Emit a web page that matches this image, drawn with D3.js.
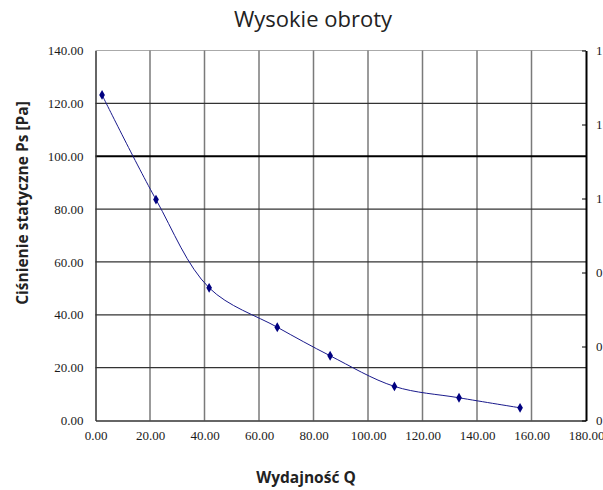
<!DOCTYPE html>
<html>
<head>
<meta charset="utf-8">
<script src="https://cdn.jsdelivr.net/npm/d3@7"></script>
<style>
  body { margin: 0; background: #fff; }
  svg { display: block; }
</style>
</head>
<body>
<svg width="603" height="490"></svg>
<script>
// flow (Q) and static pressure (Ps)
let flowQ = [2.4, 22.2, 41.7, 66.7, 86.1, 109.7, 133.4, 155.8]
let pressurePs = [123.2, 83.6, 50.2, 35.3, 24.5, 12.9, 8.6, 4.8]
let xTicks = [0, 20, 40, 60, 80, 100, 120, 140, 160, 180]
let yTicks = [0, 20, 40, 60, 80, 100, 120, 140]
let rightTickLabels = ['0', '0', '0', '1', '1', '1']

let svg = d3.select('svg')
let plotLeft = 95.5, plotRight = 586, plotTop = 50.5, plotBottom = 420.5

let x = d3.scaleLinear().domain([0, 180]).range([plotLeft, plotRight])
let y = d3.scaleLinear().domain([0, 140]).range([plotBottom, plotTop])
let yRight = d3.scaleLinear().domain([0, rightTickLabels.length - 1]).range([plotBottom, plotTop])

// title
svg.append('text')
  .attr('x', 313).attr('y', 27)
  .attr('text-anchor', 'middle')
  .style('font-family', '"Open Sans", sans-serif')
  .style('font-size', '22px')
  .style('fill', '#222')
  .text('Wysokie obroty')

// top border
svg.append('line')
  .attr('x1', plotLeft).attr('x2', plotRight)
  .attr('y1', plotTop).attr('y2', plotTop)
  .attr('stroke', '#aaa').attr('stroke-width', 1)

// vertical grid
svg.selectAll('.vgrid')
  .data(xTicks.slice(1, -1))
  .join('line')
  .attr('class', 'vgrid')
  .attr('x1', d => x(d)).attr('x2', d => x(d))
  .attr('y1', plotTop).attr('y2', plotBottom)
  .attr('stroke', '#7a7a7a').attr('stroke-width', 1.5)

// horizontal grid
svg.selectAll('.hgrid')
  .data(yTicks.slice(1, -1))
  .join('line')
  .attr('class', 'hgrid')
  .attr('x1', plotLeft).attr('x2', plotRight)
  .attr('y1', d => y(d)).attr('y2', d => y(d))
  .attr('stroke', d => d === 100 ? '#000' : '#333')
  .attr('stroke-width', d => d === 100 ? 2 : 1.2)

// axes
let xAxis = d3.axisBottom(x).tickValues(xTicks).tickSize(0).tickPadding(10)
  .tickFormat(d3.format('.2f'))
svg.append('g')
  .attr('transform', `translate(0,${plotBottom})`)
  .call(xAxis)
  .call(g => g.select('.domain').attr('stroke', '#333').attr('stroke-width', 1.5))

let yAxis = d3.axisLeft(y).tickValues(yTicks).tickSize(0).tickPadding(12)
  .tickFormat(d3.format('.2f'))
svg.append('g')
  .attr('transform', `translate(${plotLeft},0)`)
  .call(yAxis)
  .call(g => g.select('.domain').attr('stroke', '#333').attr('stroke-width', 1.5))

let yAxisRight = d3.axisRight(yRight)
  .tickValues(d3.range(rightTickLabels.length))
  .tickSizeInner(-4).tickSizeOuter(0).tickPadding(10)
  .tickFormat(i => rightTickLabels[i])
svg.append('g')
  .attr('transform', `translate(${plotRight},0)`)
  .call(yAxisRight)
  .call(g => g.select('.domain').attr('stroke', '#000').attr('stroke-width', 2))
  .call(g => g.selectAll('.tick line').attr('stroke', '#000'))

svg.selectAll('.tick text')
  .attr('font-family', null)
  .attr('font-size', null)
  .style('font-family', '"Liberation Serif", "Times New Roman", serif')
  .style('font-size', '13px')
  .style('fill', '#1a1a1a')

// axis titles
svg.append('text')
  .attr('transform', 'translate(28,203) rotate(-90)')
  .attr('text-anchor', 'middle')
  .style('font-family', '"Open Sans", sans-serif')
  .style('font-size', '15.5px')
  .style('font-weight', 'bold')
  .style('fill', '#222')
  .text('Ciśnienie statyczne Ps [Pa]')

svg.append('text')
  .attr('x', 306).attr('y', 483)
  .attr('text-anchor', 'middle')
  .style('font-family', '"Open Sans", sans-serif')
  .style('font-size', '15.5px')
  .style('font-weight', 'bold')
  .style('fill', '#222')
  .text('Wydajność Q')

// series
let points = flowQ.map((q, i) => ({q: q, p: pressurePs[i]}))
let line = d3.line()
  .x(d => x(d.q))
  .y(d => y(d.p))
  .curve(d3.curveCatmullRom.alpha(0.5))

svg.append('path')
  .datum(points)
  .attr('d', line)
  .attr('fill', 'none')
  .attr('stroke', '#1a1a8c')
  .attr('stroke-width', 1)

svg.selectAll('.marker')
  .data(points)
  .join('path')
  .attr('class', 'marker')
  .attr('transform', d => `translate(${x(d.q)},${y(d.p)})`)
  .attr('d', d3.symbol().type(d3.symbolDiamond).size(28))
  .attr('fill', '#000080')
</script>
</body>
</html>
